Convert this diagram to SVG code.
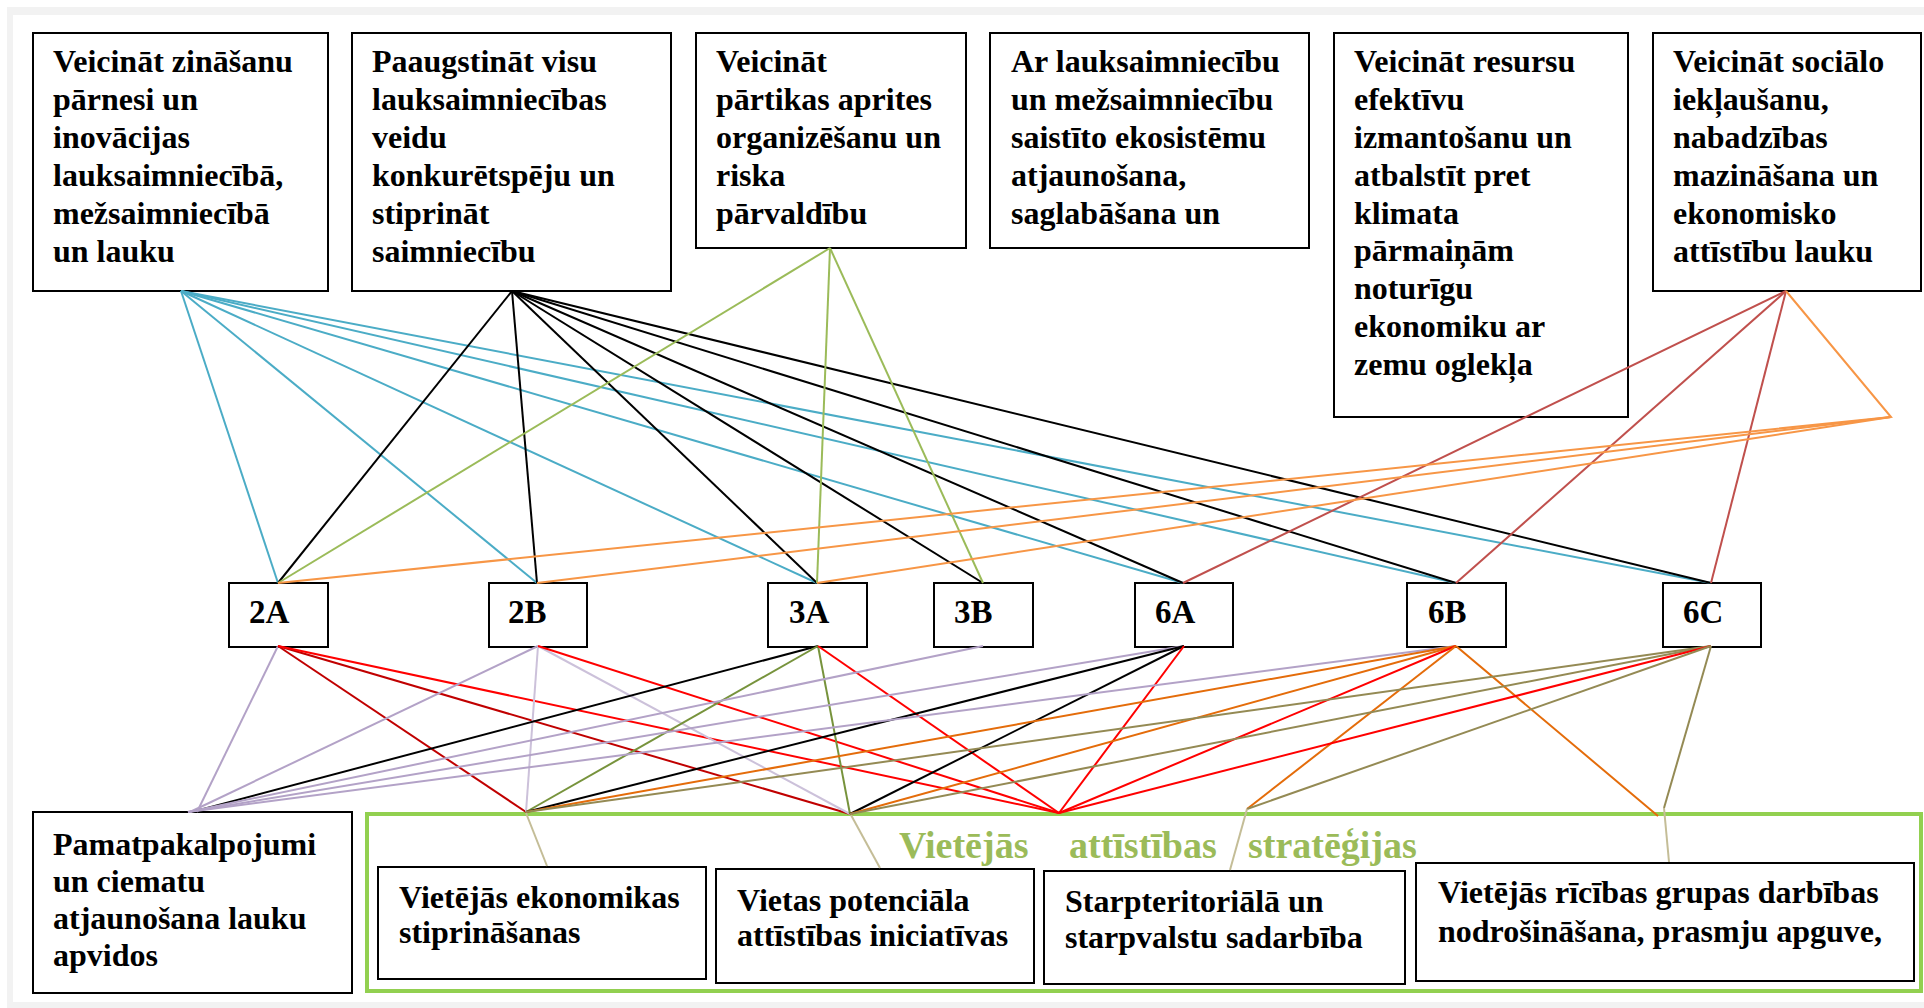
<svg xmlns="http://www.w3.org/2000/svg" width="1924" height="1008" viewBox="0 0 1924 1008">
<style>
.box{fill:#fff;stroke:#000;stroke-width:2}
.t{font-family:"Liberation Serif","Times New Roman",serif;font-weight:bold;font-size:32px;fill:#000}
.lbl{font-family:"Liberation Serif","Times New Roman",serif;font-weight:bold;font-size:33px;fill:#000}
.head{font-family:"Liberation Serif","Times New Roman",serif;font-weight:bold;font-size:38px;fill:#9bbb59}
#connectors line,#connectors polyline{stroke-width:2;fill:none}
.teal{stroke:#4bacc6}.blk{stroke:#000}.grn{stroke:#9bbb59}.brn{stroke:#c0504d}.org{stroke:#f79646}
.lav{stroke:#b3a2c7}.llav{stroke:#ccc1da}.dred{stroke:#c00000}.red{stroke:#ff0000}.olv{stroke:#77933c}
.org2{stroke:#e46c0a}.kha{stroke:#948a54}.tan{stroke:#c4bd97}
</style>
<rect x="0" y="0" width="1924" height="1008" fill="#fff"/>
<g id="frame" fill="#f2f2f2">
<rect x="7" y="7" width="1917" height="8"/>
<rect x="7" y="7" width="6" height="1001"/>
<rect x="7" y="1002" width="1917" height="6"/>
</g>

<g id="n-top1">
<rect class="box" x="33" y="33" width="295" height="258"/>
<text class="t"><tspan x="53" y="72">Veicināt zināšanu</tspan><tspan x="53" y="110">pārnesi un</tspan><tspan x="53" y="148">inovācijas</tspan><tspan x="53" y="186">lauksaimniecībā,</tspan><tspan x="53" y="224">mežsaimniecībā</tspan><tspan x="53" y="262">un lauku</tspan></text>
</g>
<g id="n-top2">
<rect class="box" x="352" y="33" width="319" height="258"/>
<text class="t"><tspan x="372" y="72">Paaugstināt visu</tspan><tspan x="372" y="110">lauksaimniecības</tspan><tspan x="372" y="148">veidu</tspan><tspan x="372" y="186">konkurētspēju un</tspan><tspan x="372" y="224">stiprināt</tspan><tspan x="372" y="262">saimniecību</tspan></text>
</g>
<g id="n-top3">
<rect class="box" x="696" y="33" width="270" height="215"/>
<text class="t"><tspan x="716" y="72">Veicināt</tspan><tspan x="716" y="110">pārtikas aprites</tspan><tspan x="716" y="148">organizēšanu un</tspan><tspan x="716" y="186">riska</tspan><tspan x="716" y="224">pārvaldību</tspan></text>
</g>
<g id="n-top4">
<rect class="box" x="990" y="33" width="319" height="215"/>
<text class="t"><tspan x="1011" y="72">Ar lauksaimniecību</tspan><tspan x="1011" y="110">un mežsaimniecību</tspan><tspan x="1011" y="148">saistīto ekosistēmu</tspan><tspan x="1011" y="186">atjaunošana,</tspan><tspan x="1011" y="224">saglabāšana un</tspan></text>
</g>
<g id="n-top5">
<rect class="box" x="1334" y="33" width="294" height="384"/>
<text class="t"><tspan x="1354" y="72">Veicināt resursu</tspan><tspan x="1354" y="110">efektīvu</tspan><tspan x="1354" y="148">izmantošanu un</tspan><tspan x="1354" y="186">atbalstīt pret</tspan><tspan x="1354" y="224">klimata</tspan><tspan x="1354" y="261">pārmaiņām</tspan><tspan x="1354" y="299">noturīgu</tspan><tspan x="1354" y="337">ekonomiku ar</tspan><tspan x="1354" y="375">zemu oglekļa</tspan></text>
</g>
<g id="n-top6">
<rect class="box" x="1653" y="33" width="268" height="258"/>
<text class="t"><tspan x="1673" y="72">Veicināt sociālo</tspan><tspan x="1673" y="110">iekļaušanu,</tspan><tspan x="1673" y="148">nabadzības</tspan><tspan x="1673" y="186">mazināšana un</tspan><tspan x="1673" y="224">ekonomisko</tspan><tspan x="1673" y="262">attīstību lauku</tspan></text>
</g>

<g id="n-2A"><rect class="box" x="229" y="583" width="99" height="64"/><text class="lbl" x="249" y="623">2A</text></g>
<g id="n-2B"><rect class="box" x="489" y="583" width="98" height="64"/><text class="lbl" x="508" y="623">2B</text></g>
<g id="n-3A"><rect class="box" x="768" y="583" width="99" height="64"/><text class="lbl" x="789" y="623">3A</text></g>
<g id="n-3B"><rect class="box" x="934" y="583" width="99" height="64"/><text class="lbl" x="954" y="623">3B</text></g>
<g id="n-6A"><rect class="box" x="1135" y="583" width="98" height="64"/><text class="lbl" x="1155" y="623">6A</text></g>
<g id="n-6B"><rect class="box" x="1407" y="583" width="99" height="64"/><text class="lbl" x="1428" y="623">6B</text></g>
<g id="n-6C"><rect class="box" x="1663" y="583" width="98" height="64"/><text class="lbl" x="1683" y="623">6C</text></g>

<g id="n-pamat">
<rect class="box" x="33" y="812" width="319" height="181"/>
<text class="t"><tspan x="53" y="855">Pamatpakalpojumi</tspan><tspan x="53" y="892">un ciematu</tspan><tspan x="53" y="929">atjaunošana lauku</tspan><tspan x="53" y="966">apvidos</tspan></text>
</g>

<g id="n-strategy">
<rect x="367" y="814" width="1554" height="177" fill="#fff" stroke="#92d050" stroke-width="4"/>
<text class="head" x="899" y="858">Vietējās</text>
<text class="head" x="1069" y="858">attīstības</text>
<text class="head" x="1248" y="858">stratēģijas</text>
</g>
<g id="n-econ">
<rect class="box" x="378" y="867" width="328" height="112"/>
<text class="t"><tspan x="399" y="908">Vietējās ekonomikas</tspan><tspan x="399" y="943">stiprināšanas</tspan></text>
</g>
<g id="n-pot">
<rect class="box" x="716" y="869" width="318" height="114"/>
<text class="t"><tspan x="737" y="911">Vietas potenciāla</tspan><tspan x="737" y="946">attīstības iniciatīvas</tspan></text>
</g>
<g id="n-coop">
<rect class="box" x="1044" y="871" width="361" height="113"/>
<text class="t"><tspan x="1065" y="912">Starpteritoriālā un</tspan><tspan x="1065" y="948">starpvalstu sadarbība</tspan></text>
</g>
<g id="n-lag">
<rect class="box" x="1416" y="863" width="498" height="118"/>
<text class="t"><tspan x="1438" y="903">Vietējās rīcības grupas darbības</tspan><tspan x="1438" y="942">nodrošināšana, prasmju apguve,</tspan></text>
</g>

<g id="connectors">
<line class="teal" x1="181" y1="291" x2="278" y2="583"/>
<line class="teal" x1="181" y1="291" x2="537" y2="583"/>
<line class="teal" x1="181" y1="291" x2="817" y2="583"/>
<line class="teal" x1="181" y1="291" x2="1183" y2="583"/>
<line class="teal" x1="181" y1="291" x2="1456" y2="583"/>
<line class="teal" x1="181" y1="291" x2="1711" y2="583"/>
<line class="blk" x1="512" y1="291" x2="278" y2="583"/>
<line class="blk" x1="512" y1="291" x2="537" y2="583"/>
<line class="blk" x1="512" y1="291" x2="817" y2="583"/>
<line class="blk" x1="512" y1="291" x2="983" y2="583"/>
<line class="blk" x1="512" y1="291" x2="1183" y2="583"/>
<line class="blk" x1="512" y1="291" x2="1456" y2="583"/>
<line class="blk" x1="512" y1="291" x2="1711" y2="583"/>
<line class="grn" x1="830" y1="248" x2="278" y2="583"/>
<line class="grn" x1="830" y1="248" x2="817" y2="583"/>
<line class="grn" x1="830" y1="248" x2="983" y2="583"/>
<line class="brn" x1="1786" y1="291" x2="1183" y2="583"/>
<line class="brn" x1="1786" y1="291" x2="1456" y2="583"/>
<line class="brn" x1="1786" y1="291" x2="1711" y2="583"/>
<polyline class="org" points="1786,291 1891,417 278,583"/>
<line class="org" x1="1891" y1="417" x2="537" y2="583"/>
<line class="org" x1="1891" y1="417" x2="817" y2="583"/>

<line class="lav" x1="278" y1="646" x2="197" y2="812"/>
<line class="dred" x1="278" y1="646" x2="526" y2="812"/>
<line class="dred" x1="278" y1="646" x2="850" y2="814"/>
<line class="red" x1="278" y1="646" x2="1059" y2="813"/>
<line class="lav" x1="538" y1="646" x2="190" y2="812"/>
<line class="llav" x1="538" y1="646" x2="526" y2="812"/>
<line class="llav" x1="538" y1="646" x2="850" y2="814"/>
<line class="red" x1="538" y1="646" x2="1059" y2="813"/>
<line class="blk" x1="818" y1="646" x2="192" y2="812"/>
<line class="olv" x1="818" y1="646" x2="526" y2="812"/>
<line class="olv" x1="818" y1="646" x2="850" y2="814"/>
<line class="red" x1="818" y1="646" x2="1059" y2="813"/>
<line class="lav" x1="983" y1="646" x2="188" y2="812"/>
<line class="lav" x1="1184" y1="646" x2="188" y2="812"/>
<line class="blk" x1="1184" y1="646" x2="526" y2="812"/>
<line class="blk" x1="1184" y1="646" x2="850" y2="814"/>
<line class="red" x1="1184" y1="646" x2="1059" y2="813"/>
<line class="lav" x1="1456" y1="646" x2="188" y2="812"/>
<line class="org2" x1="1456" y1="646" x2="526" y2="812"/>
<line class="org2" x1="1456" y1="646" x2="850" y2="814"/>
<line class="red" x1="1456" y1="646" x2="1059" y2="813"/>
<line class="org2" x1="1456" y1="646" x2="1247" y2="809"/>
<line class="org2" x1="1456" y1="646" x2="1658" y2="816"/>
<line class="kha" x1="1711" y1="646" x2="526" y2="812"/>
<line class="kha" x1="1711" y1="646" x2="850" y2="814"/>
<line class="red" x1="1711" y1="646" x2="1059" y2="813"/>
<line class="kha" x1="1711" y1="646" x2="1247" y2="809"/>
<line class="kha" x1="1711" y1="646" x2="1664" y2="808"/>

<line class="tan" x1="526" y1="813" x2="547" y2="866"/>
<line class="tan" x1="851" y1="815" x2="880" y2="868"/>
<line class="tan" x1="1247" y1="809" x2="1230" y2="870"/>
<line class="tan" x1="1664" y1="808" x2="1669" y2="862"/>
</g>
</svg>
